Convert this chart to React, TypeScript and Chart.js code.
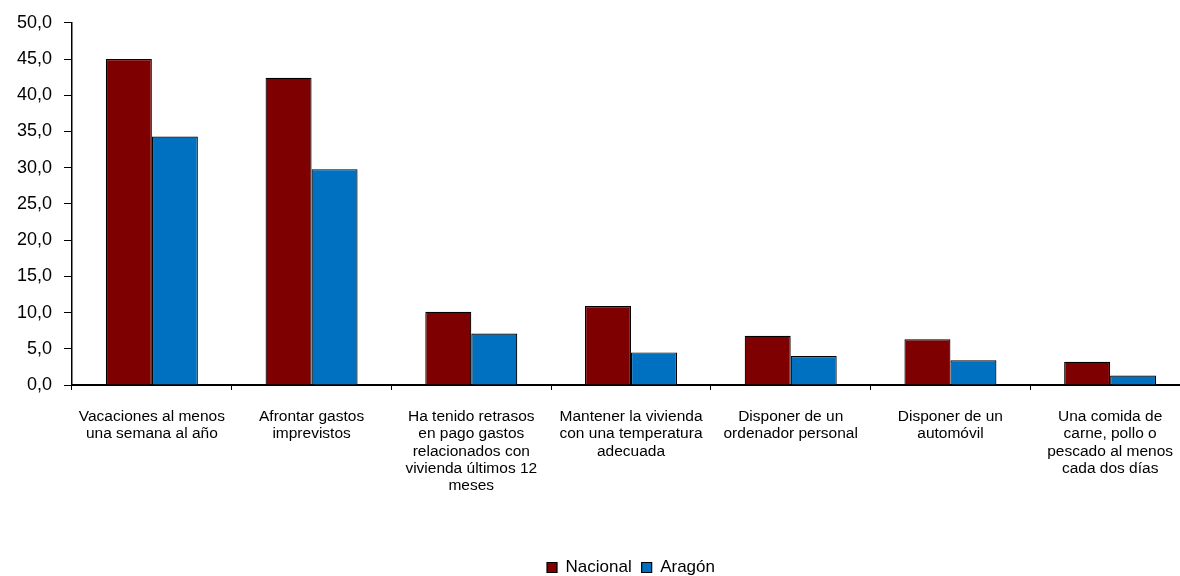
import React, { useEffect, useRef } from "react";
import { Chart, registerables } from "chart.js";

Chart.register(...registerables);

const categories: string[][] = [
  ["Vacaciones al menos", "una semana al año"],
  ["Afrontar gastos", "imprevistos"],
  ["Ha tenido retrasos", "en pago gastos", "relacionados con", "vivienda últimos 12", "meses"],
  ["Mantener la vivienda", "con una temperatura", "adecuada"],
  ["Disponer de un", "ordenador personal"],
  ["Disponer de un", "automóvil"],
  ["Una comida de", "carne, pollo o", "pescado al menos", "cada dos días"],
];

const nacional: number[] = [45.0, 42.4, 10.1, 10.9, 6.8, 6.3, 3.2];
const aragon: number[] = [34.3, 29.8, 7.1, 4.5, 4.0, 3.4, 1.3];

const seriesNames: string[] = ["Nacional", "Aragón"];
const yTickMin = 0;
const yTickMax = 50;
const yTickStep = 5;

const FONT = "'Liberation Sans', Arial, sans-serif";

const legendShift = {
  id: "legendShift",
  afterLayout(chart: any) {
    const l = chart.legend;
    if (!l) return;
    l.left += 36;
    l.right += 36;
    l.top += 10;
    l.bottom += 10;
  },
};

export default function App() {
  const ref = useRef<HTMLCanvasElement | null>(null);

  useEffect(() => {
    if (!ref.current) return;
    const chart = new Chart(ref.current, {
      type: "bar",
      data: {
        labels: categories,
        datasets: [
          {
            label: seriesNames[0],
            data: nacional,
            backgroundColor: "#7F0000",
            borderColor: "#000000",
            borderWidth: 1.2,
          },
          {
            label: seriesNames[1],
            data: aragon,
            backgroundColor: "#0070C0",
            borderColor: "#000000",
            borderWidth: 1.2,
          },
        ],
      },
      options: {
        responsive: false,
        animation: false,
        layout: { padding: { top: 22, right: 10, left: 0, bottom: 0 } },
        datasets: {
          bar: { categoryPercentage: 0.576, barPercentage: 1 },
        },
        plugins: {
          tooltip: { enabled: false },
          legend: {
            position: "bottom",
            labels: {
              boxWidth: 10,
              boxHeight: 10,
              padding: 10,
              color: "#000",
              font: { family: FONT, size: 17 },
            },
          },
        },
        scales: {
          x: {
            afterFit: (s: any) => {
              s.height = 154;
            },
            grid: {
              drawOnChartArea: false,
              drawTicks: true,
              tickLength: 5,
              color: "#000",
              offset: true,
            },
            border: { display: true, color: "#000", width: 2 },
            ticks: {
              color: "#000",
              autoSkip: false,
              maxRotation: 0,
              minRotation: 0,
              padding: 18,
              font: { family: FONT, size: 15.5, lineHeight: 1.12 },
            },
          },
          y: {
            min: yTickMin,
            max: yTickMax,
            afterFit: (s: any) => {
              s.width = 72;
            },
            grid: {
              drawOnChartArea: false,
              drawTicks: true,
              tickLength: 8,
              color: "#000",
            },
            border: { display: true, color: "#000", width: 1.5 },
            ticks: {
              stepSize: yTickStep,
              color: "#000",
              padding: 12,
              font: { family: FONT, size: 18 },
              callback: (v: any) => Number(v).toFixed(1).replace(".", ","),
            },
          },
        },
      },
      plugins: [legendShift],
    });
    return () => chart.destroy();
  }, []);

  return (
    <div
      style={{
        position: "fixed",
        left: 0,
        top: 0,
        width: 1180,
        height: 576,
        overflow: "hidden",
        background: "#fff",
      }}
    >
      <canvas ref={ref} width={1200} height={576} style={{ display: "block" }} />
    </div>
  );
}
